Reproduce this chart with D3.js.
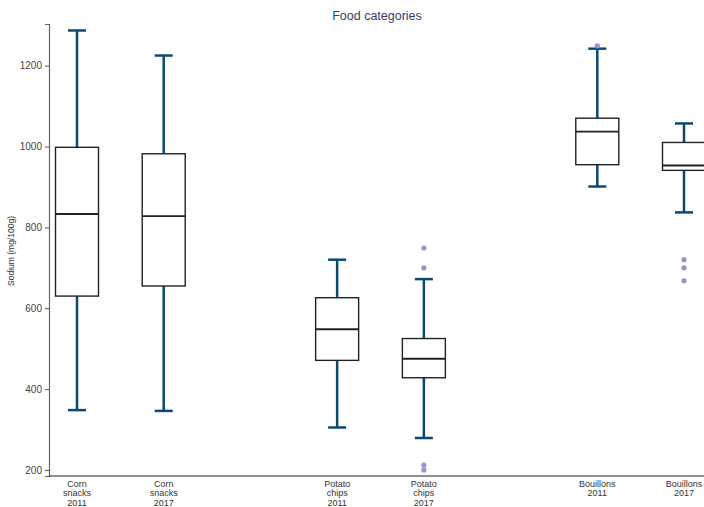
<!DOCTYPE html>
<html>
<head>
<meta charset="utf-8">
<script src="https://cdn.jsdelivr.net/npm/d3@7"></script>
<style>
  body { margin: 0; background: #fff; }
  svg { display: block; font-family: "Liberation Sans", Arial, sans-serif; }
</style>
</head>
<body>
<svg id="chart" width="704" height="507"></svg>
<script>
// slots on the x axis (gaps between food groups stay empty)
const slots = ["c11", "c17", "gap1", "p11", "p17", "gap2", "b11", "b17"];
const boxKeys = ["c11", "c17", "p11", "p17", "b11", "b17"];
const boxLabels = [
  ["Corn", "snacks", "2011"],
  ["Corn", "snacks", "2017"],
  ["Potato", "chips", "2011"],
  ["Potato", "chips", "2017"],
  ["Bouillons", "2011"],
  ["Bouillons", "2017"]
];
const whiskerLow = [348, 346, 305, 279, 901, 837];
const q1 = [630, 655, 471, 428, 955, 941];
const median = [833, 828, 548, 475, 1037, 953];
const q3 = [998, 982, 626, 525, 1070, 1010];
const whiskerHigh = [1287, 1225, 720, 672, 1242, 1057];
const outliers = [
  [],
  [],
  [],
  [749, 700, 212, 200],
  [1249],
  [720, 700, 668]
];
const yTicks = [200, 400, 600, 800, 1000, 1200];

const svg = d3.select("#chart");
const margin = { left: 49, right: 0, top: 24, bottom: 31 };
const W = 704, H = 507;

const x = d3.scalePoint()
  .domain(slots)
  .range([77, 684]);

const y = d3.scaleLinear()
  .domain([185, 1303])
  .range([H - margin.bottom, margin.top]);

const boxW = 43, capW = 18;
const whiskerColor = "#0b4a6f";
const boxColor = "#222";

// title
svg.append("text")
  .attr("x", 377).attr("y", 20)
  .attr("text-anchor", "middle")
  .attr("font-size", 12.5)
  .attr("fill", "#34406a")
  .text("Food categories");

// y axis
const yAxis = svg.append("g")
  .attr("transform", `translate(${margin.left},0)`)
  .call(d3.axisLeft(y).tickValues(yTicks).tickFormat(d3.format("d")).tickSize(4).tickPadding(3));
yAxis.select(".domain").attr("stroke", "#666").attr("stroke-width", 1.2);
yAxis.selectAll(".tick line").attr("stroke", "#555");
yAxis.selectAll(".tick text")
  .attr("font-size", 10)
  .attr("fill", "#444")
  .attr("font-family", "Liberation Sans, Arial, sans-serif");

svg.append("text")
  .attr("transform", `translate(14,251) rotate(-90)`)
  .attr("text-anchor", "middle")
  .attr("font-size", 8.5)
  .attr("fill", "#333")
  .text("Sodium (mg/100g)");

// x axis line
svg.append("line")
  .attr("x1", margin.left).attr("x2", W)
  .attr("y1", H - margin.bottom).attr("y2", H - margin.bottom)
  .attr("stroke", "#222").attr("stroke-width", 1.2);

// x labels
boxKeys.forEach((k, i) => {
  const t = svg.append("text")
    .attr("text-anchor", "middle")
    .attr("font-size", 9)
    .attr("fill", "#333");
  boxLabels[i].forEach((line, j) => {
    t.append("tspan")
      .attr("x", x(k))
      .attr("y", 487 + j * 9.3)
      .text(line);
  });
});

// boxes
const g = svg.append("g");
boxKeys.forEach((k, i) => {
  const cx = x(k);
  // whiskers
  g.append("line")
    .attr("x1", cx).attr("x2", cx)
    .attr("y1", y(q3[i])).attr("y2", y(whiskerHigh[i]))
    .attr("stroke", whiskerColor).attr("stroke-width", 2.5);
  g.append("line")
    .attr("x1", cx).attr("x2", cx)
    .attr("y1", y(q1[i])).attr("y2", y(whiskerLow[i]))
    .attr("stroke", whiskerColor).attr("stroke-width", 2.5);
  [whiskerHigh[i], whiskerLow[i]].forEach(v => {
    g.append("line")
      .attr("x1", cx - capW / 2).attr("x2", cx + capW / 2)
      .attr("y1", y(v)).attr("y2", y(v))
      .attr("stroke", whiskerColor).attr("stroke-width", 2.5);
  });
  // box
  g.append("rect")
    .attr("x", cx - boxW / 2)
    .attr("y", y(q3[i]))
    .attr("width", boxW)
    .attr("height", y(q1[i]) - y(q3[i]))
    .attr("fill", "#fff")
    .attr("stroke", boxColor)
    .attr("stroke-width", 1.4);
  g.append("line")
    .attr("x1", cx - boxW / 2).attr("x2", cx + boxW / 2)
    .attr("y1", y(median[i])).attr("y2", y(median[i]))
    .attr("stroke", boxColor).attr("stroke-width", 1.8);
  // outliers
  outliers[i].forEach(v => {
    g.append("circle")
      .attr("cx", cx).attr("cy", y(v))
      .attr("r", 2.6)
      .attr("fill", "#9b92cc");
  });
});
</script>
</body>
</html>
